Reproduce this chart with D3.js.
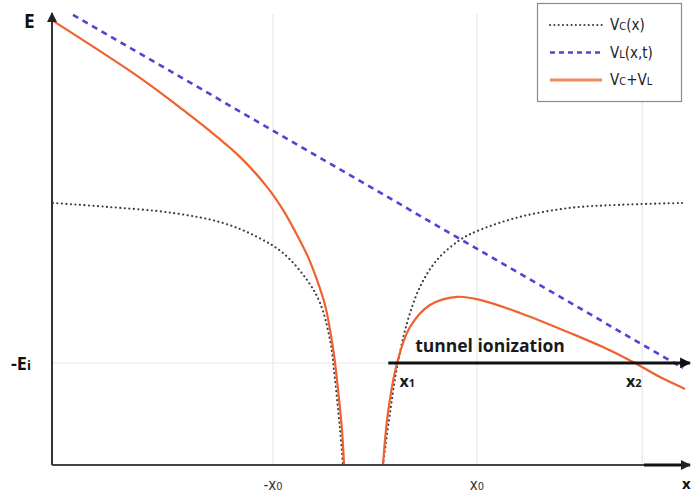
<!DOCTYPE html>
<html>
<head>
<meta charset="utf-8">
<script src="https://cdn.jsdelivr.net/npm/d3@7"></script>
<style>
  html, body { margin: 0; padding: 0; background: #fff; }
  svg { display: block; }
</style>
</head>
<body>
<svg id="chart" width="691" height="500"></svg>
<script>
// Potential energy along x (units of x0 horizontally, units of Ei vertically)

// Coulomb potential Vc(x), left and right branches
const coulombLeft = [
  [-3.157, -0.216], [-2.627, -0.235], [-1.980, -0.265], [-1.490, -0.314],
  [-1.157, -0.382], [-0.902, -0.461], [-0.667, -0.593], [-0.539, -0.706],
  [-0.441, -0.887], [-0.392, -1.083], [-0.343, -1.328], [-0.314, -1.5]
];
const coulombRight = [
  [0.078, -1.5], [0.147, -1.245], [0.216, -1.020], [0.314, -0.804],
  [0.441, -0.627], [0.608, -0.495], [0.833, -0.397], [1.029, -0.348],
  [1.422, -0.284], [1.912, -0.240], [2.402, -0.225], [3.010, -0.216]
];

// Laser field potential VL(x,t), a straight line
const laser = [[-2.961, 0.706], [3.020, -1.025]];

// Combined potential Vc + VL
const totalLeft = [
  [-3.157, 0.676], [-2.304, 0.397], [-1.882, 0.240], [-1.549, 0.108],
  [-1.324, 0.010], [-1.059, -0.137], [-0.902, -0.250], [-0.775, -0.363],
  [-0.657, -0.480], [-0.569, -0.593], [-0.490, -0.716], [-0.441, -0.838],
  [-0.402, -0.961], [-0.373, -1.083], [-0.324, -1.328], [-0.304, -1.5]
];
const totalRight = [
  [0.078, -1.5], [0.127, -1.245], [0.216, -1.0], [0.343, -0.824],
  [0.539, -0.716], [0.804, -0.676], [1.029, -0.691], [1.422, -0.755],
  [1.912, -0.853], [2.235, -0.922], [2.529, -0.995], [2.794, -1.069],
  [3.039, -1.127]
];

// Axis marks
const xTicks = [{ v: -1, label: "-x", sub: "0" }, { v: 1, label: "x", sub: "0" }];
const gridX = [-1, 1, 2.62];
const ionLevel = -1;                 // -Ei
const turningPoints = [{ v: 0.24, sub: "1" }, { v: 2.46, sub: "2" }];
const tunnelStart = 0.13;

const xDomain = [-3.167, 3.098];
const yDomain = [-1.5, 0.71];

const svg = d3.select("#chart");
const x = d3.scaleLinear().domain(xDomain).range([52, 691]);
const y = d3.scaleLinear().domain(yDomain).range([465, 14]);

const defs = svg.append("defs");
function arrowMarker(id, color, size) {
  defs.append("marker")
    .attr("id", id)
    .attr("viewBox", "0 0 10 10")
    .attr("refX", 9).attr("refY", 5)
    .attr("markerWidth", size).attr("markerHeight", size)
    .attr("markerUnits", "userSpaceOnUse")
    .attr("orient", "auto")
    .append("path")
    .attr("d", "M0,0 L10,5 L0,10 Z")
    .attr("fill", color);
}
arrowMarker("arrowBlack", "#111", 11);
arrowMarker("arrowAxis", "#222", 10);

const plot = svg.append("g");

// Faint grid
plot.selectAll("line.gx").data(gridX).join("line")
  .attr("class", "gx")
  .attr("x1", d => x(d)).attr("x2", d => x(d))
  .attr("y1", y(yDomain[1])).attr("y2", y(yDomain[0]))
  .attr("stroke", "#e9e9e9").attr("stroke-width", 1.2);
plot.append("line")
  .attr("x1", x(xDomain[0])).attr("x2", x(xDomain[1]))
  .attr("y1", y(ionLevel)).attr("y2", y(ionLevel))
  .attr("stroke", "#ececec").attr("stroke-width", 1.2);

const line = d3.line()
  .x(d => x(d[0])).y(d => y(d[1]))
  .curve(d3.curveCatmullRom.alpha(0.5));

// Coulomb potential (dotted)
[coulombLeft, coulombRight].forEach(seg => {
  plot.append("path").datum(seg)
    .attr("d", line)
    .attr("fill", "none")
    .attr("stroke", "#3a3a48")
    .attr("stroke-width", 2.1)
    .attr("stroke-linecap", "round")
    .attr("stroke-dasharray", "0.1 4.4");
});

// Laser potential (dashed)
plot.append("path").datum(laser)
  .attr("d", d3.line().x(d => x(d[0])).y(d => y(d[1])))
  .attr("fill", "none")
  .attr("stroke", "#4f45cf")
  .attr("stroke-width", 2.6)
  .attr("stroke-dasharray", "6 5");

// Combined potential
[totalLeft, totalRight].forEach(seg => {
  plot.append("path").datum(seg)
    .attr("d", line)
    .attr("fill", "none")
    .attr("stroke", "#ee6230")
    .attr("stroke-width", 2.2);
});

// Axes
const yAxisX = x(xDomain[0]);
svg.append("line")
  .attr("x1", x(xDomain[0])).attr("x2", 646)
  .attr("y1", y(yDomain[0])).attr("y2", y(yDomain[0]))
  .attr("stroke", "#444").attr("stroke-width", 1.8);
svg.append("line")
  .attr("x1", 644).attr("x2", 690)
  .attr("y1", y(yDomain[0])).attr("y2", y(yDomain[0]))
  .attr("stroke", "#111").attr("stroke-width", 3)
  .attr("marker-end", "url(#arrowAxis)");
svg.append("line")
  .attr("x1", yAxisX).attr("x2", yAxisX)
  .attr("y1", y(yDomain[0])).attr("y2", 13)
  .attr("stroke", "#333").attr("stroke-width", 2)
  .attr("marker-end", "url(#arrowAxis)");

// Tunnel ionization arrow along -Ei
svg.append("line")
  .attr("x1", x(tunnelStart)).attr("x2", 690)
  .attr("y1", y(ionLevel)).attr("y2", y(ionLevel))
  .attr("stroke", "#111").attr("stroke-width", 3)
  .attr("marker-end", "url(#arrowBlack)");

const boldFont = "'Open Sans', 'Noto Sans', sans-serif";

svg.append("text")
  .attr("x", 490).attr("y", y(ionLevel) - 11)
  .attr("text-anchor", "middle")
  .attr("font-family", boldFont).attr("font-weight", 700)
  .attr("font-size", 17.5).attr("fill", "#1a1a1a")
  .text("tunnel ionization");

// Turning point labels
turningPoints.forEach(p => {
  const t = svg.append("text")
    .attr("x", x(p.v)).attr("y", y(ionLevel) + 24)
    .attr("font-family", boldFont).attr("font-weight", 700)
    .attr("font-size", 16).attr("fill", "#1a1a1a");
  t.append("tspan").text("x");
  t.append("tspan").attr("font-size", 11).text(p.sub);
});

// Vertical axis labels
svg.append("text")
  .attr("x", 24).attr("y", 28)
  .attr("font-family", boldFont).attr("font-weight", 700)
  .attr("font-size", 19).attr("fill", "#111")
  .text("E");
const ei = svg.append("text")
  .attr("x", 11).attr("y", y(ionLevel) + 7)
  .attr("font-family", boldFont).attr("font-weight", 700)
  .attr("font-size", 18).attr("fill", "#111");
ei.append("tspan").text("-E");
ei.append("tspan").attr("font-size", 13).text("i");

// Horizontal axis labels
const tickFont = "'Liberation Sans Narrow', 'DejaVu Sans Condensed', 'Liberation Sans', sans-serif";
xTicks.forEach(t => {
  const el = svg.append("text")
    .attr("x", x(t.v)).attr("y", 490)
    .attr("text-anchor", "middle")
    .attr("font-family", tickFont)
    .attr("font-size", 15).attr("fill", "#333");
  el.append("tspan").text(t.label);
  el.append("tspan").attr("font-size", 11).text(t.sub);
});
svg.append("text")
  .attr("x", 682).attr("y", 489)
  .attr("font-family", boldFont).attr("font-weight", 700)
  .attr("font-size", 15).attr("fill", "#111")
  .text("x");

// Legend
const legendItems = [
  { main: "V", sub: "C", rest: "(x)", color: "#3a3a48", width: 2, dash: "0.1 4.2", cap: "round" },
  { main: "V", sub: "L", rest: "(x,t)", color: "#4f45cf", width: 2.6, dash: "5 4", cap: "butt" },
  { main: "V", sub: "C", rest: "+V", sub2: "L", color: "#ee8a5e", width: 3.2, dash: null, cap: "butt" }
];
const legend = svg.append("g");
legend.append("rect")
  .attr("x", 537.5).attr("y", 3.5).attr("width", 144).attr("height", 98)
  .attr("fill", "#fff").attr("stroke", "#8a8a8a").attr("stroke-width", 1.2);
legendItems.forEach((it, i) => {
  const cy = 25 + i * 27.5;
  legend.append("line")
    .attr("x1", 550).attr("x2", 602)
    .attr("y1", cy).attr("y2", cy)
    .attr("stroke", it.color).attr("stroke-width", it.width)
    .attr("stroke-linecap", it.cap)
    .attr("stroke-dasharray", it.dash);
  const t = legend.append("text")
    .attr("x", 610).attr("y", cy + 5)
    .attr("font-family", tickFont)
    .attr("font-size", 15).attr("fill", "#222");
  t.append("tspan").text(it.main);
  t.append("tspan").attr("font-size", 11).text(it.sub);
  t.append("tspan").text(it.rest);
  if (it.sub2) t.append("tspan").attr("font-size", 11).text(it.sub2);
});
</script>
</body>
</html>
